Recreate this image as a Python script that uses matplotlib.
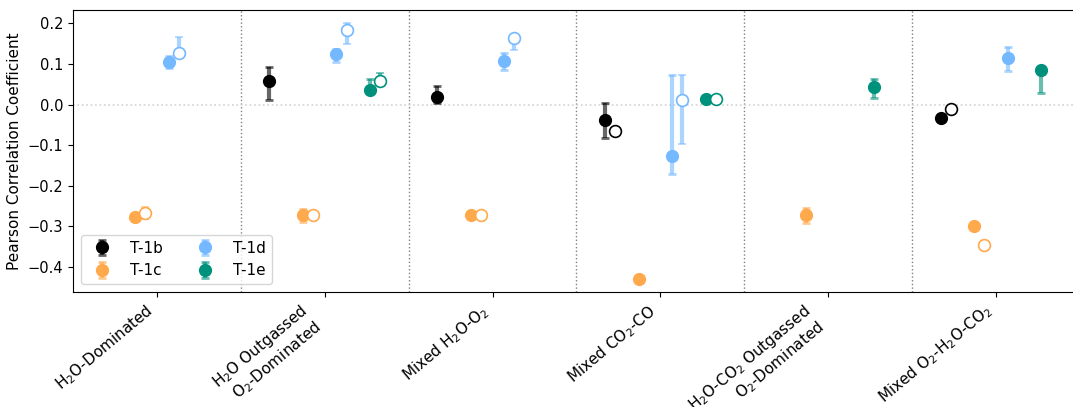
import numpy as np
import matplotlib
matplotlib.use("Agg")
import matplotlib.pyplot as plt
from matplotlib.colors import to_rgba

nan = np.nan
categories = ["H$_2$O-Dominated", "H$_2$O Outgassed\nO$_2$-Dominated", "Mixed H$_2$O-O$_2$",
              "Mixed CO$_2$-CO", "H$_2$O-CO$_2$ Outgassed\nO$_2$-Dominated", "Mixed O$_2$-H$_2$O-CO$_2$"]
series = ["T-1b", "T-1c", "T-1d", "T-1e"]
colors = ["#000000", "#FFA94D", "#74B9FF", "#00917C"]

# filled markers: value, lower bound, upper bound
t1b_fill = [nan, 0.057, 0.018, -0.037, nan, -0.032]
t1b_fill_lo = [nan, 0.012, 0.003, -0.083, nan, nan]
t1b_fill_hi = [nan, 0.092, 0.045, 0.003, nan, nan]
t1c_fill = [-0.277, -0.271, -0.271, -0.431, -0.272, -0.300]
t1c_fill_lo = [-0.288, -0.290, nan, nan, -0.293, nan]
t1c_fill_hi = [-0.268, -0.258, nan, nan, -0.255, nan]
t1d_fill = [0.104, 0.124, 0.107, -0.126, nan, 0.114]
t1d_fill_lo = [0.090, 0.105, 0.085, -0.170, nan, 0.082]
t1d_fill_hi = [0.119, 0.138, 0.126, 0.074, nan, 0.142]
t1e_fill = [nan, 0.036, nan, 0.013, 0.042, 0.085]
t1e_fill_lo = [nan, 0.030, nan, nan, 0.015, 0.029]
t1e_fill_hi = [nan, 0.064, nan, nan, 0.062, 0.090]

# open markers: value, lower bound, upper bound
t1b_open = [nan, nan, nan, -0.065, nan, -0.011]
t1b_open_lo = [nan, nan, nan, nan, nan, nan]
t1b_open_hi = [nan, nan, nan, nan, nan, nan]
t1c_open = [-0.267, -0.272, -0.272, nan, nan, -0.347]
t1c_open_lo = [-0.282, -0.280, nan, nan, nan, nan]
t1c_open_hi = [-0.253, -0.263, nan, nan, nan, nan]
t1d_open = [0.128, 0.183, 0.163, 0.011, nan, nan]
t1d_open_lo = [0.120, 0.148, 0.134, -0.098, nan, nan]
t1d_open_hi = [0.167, 0.202, 0.166, 0.074, nan, nan]
t1e_open = [nan, 0.058, nan, 0.013, nan, nan]
t1e_open_lo = [nan, 0.050, nan, nan, nan, nan]
t1e_open_hi = [nan, 0.077, nan, nan, nan, nan]

fills = [(t1b_fill, t1b_fill_lo, t1b_fill_hi), (t1c_fill, t1c_fill_lo, t1c_fill_hi),
         (t1d_fill, t1d_fill_lo, t1d_fill_hi), (t1e_fill, t1e_fill_lo, t1e_fill_hi)]
opens = [(t1b_open, t1b_open_lo, t1b_open_hi), (t1c_open, t1c_open_lo, t1c_open_hi),
         (t1d_open, t1d_open_lo, t1d_open_hi), (t1e_open, t1e_open_lo, t1e_open_hi)]


def yerr_of(v, lo, hi):
    v = np.array(v, float)
    lo = np.array(lo, float)
    hi = np.array(hi, float)
    e_lo = np.nan_to_num(v - lo, nan=0.0)
    e_hi = np.nan_to_num(hi - v, nan=0.0)
    return np.vstack([e_lo, e_hi])


fig = plt.figure(figsize=(10.73, 4.07), dpi=100)
ax = fig.add_axes([73 / 1073, 1 - 292 / 407, 1007 / 1073, 282 / 407])

x = np.arange(len(categories))
for i, (name, c) in enumerate(zip(series, colors)):
    base = (i - 1.5) * 0.2
    v, lo, hi = fills[i]
    ax.errorbar(x + base - 0.03, v, yerr=yerr_of(v, lo, hi), fmt='o', color=c,
                ecolor=to_rgba(c, 0.6), elinewidth=3, capsize=3, capthick=2,
                ms=8.5, label=name, zorder=3)
    v, lo, hi = opens[i]
    ax.errorbar(x + base + 0.03, v, yerr=yerr_of(v, lo, hi), fmt='o', color=c,
                mfc='white', mec=c, mew=1.2, ecolor=to_rgba(c, 0.6), elinewidth=3,
                capsize=3, capthick=2, ms=8.5, zorder=3)

for b in np.arange(0.5, len(categories) - 0.5, 1.0):
    ax.axvline(b, color='gray', ls=':', lw=1, zorder=1)
ax.axhline(0, color='lightgray', ls=':', lw=1.2, zorder=1)

ax.set_xlim(-0.5, 5.5)
ax.set_ylim(-0.462, 0.233)
ax.set_xticks(x)
ax.set_xticklabels(categories, rotation=40, ha='right', fontsize=11)
ax.tick_params(axis='y', labelsize=10.5)
ax.set_ylabel("Pearson Correlation Coefficient", fontsize=11)
ax.legend(loc='lower left', ncol=2, fontsize=11, columnspacing=1.8, handlelength=2.0)

fig.savefig("out.png", dpi=100)
